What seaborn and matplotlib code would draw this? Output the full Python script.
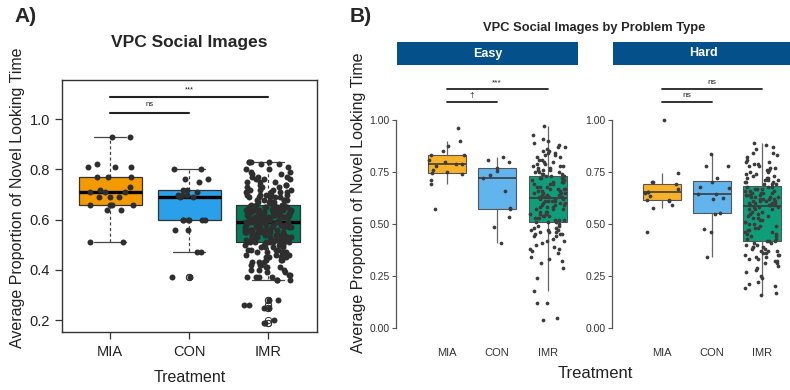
import numpy as np
import pandas as pd
import matplotlib
matplotlib.use("Agg")
import matplotlib.pyplot as plt
import seaborn as sns

# ---- data ----
treatments = ["MIA", "CON", "IMR"]

# Panel A - all trials pooled
mia_all = [0.51, 0.51, 0.64, 0.64, 0.66, 0.66, 0.66, 0.66, 0.69, 0.69, 0.69,
           0.71, 0.71, 0.71, 0.72, 0.73, 0.77, 0.77, 0.77, 0.81, 0.81, 0.81,
           0.82, 0.93, 0.93]
con_all = [0.37, 0.37, 0.47, 0.47, 0.56, 0.56, 0.60, 0.60, 0.60, 0.60, 0.60,
           0.60, 0.69, 0.69, 0.70, 0.70, 0.70, 0.71, 0.72, 0.72, 0.75, 0.76,
           0.76, 0.80, 0.80]
imr_all_levels = [0.19, 0.20, 0.25, 0.26, 0.28,
                  0.36, 0.37, 0.38, 0.39, 0.40, 0.41, 0.42, 0.43, 0.44, 0.45,
                  0.46, 0.47, 0.48, 0.49, 0.50, 0.51, 0.52, 0.53, 0.54, 0.55,
                  0.56, 0.57, 0.58, 0.59, 0.60, 0.61, 0.62, 0.63, 0.64, 0.65,
                  0.66, 0.67, 0.68, 0.69, 0.70, 0.71, 0.72, 0.73, 0.74, 0.75,
                  0.76, 0.77, 0.78, 0.79, 0.80, 0.81, 0.82, 0.83]
imr_all_counts = [2, 1, 2, 2, 2,
                  3, 4, 2, 2, 3, 3, 3, 3, 3, 4,
                  4, 4, 4, 4, 5, 8, 8, 7, 7, 8,
                  7, 7, 8, 9, 9, 8, 9, 8, 9, 8,
                  5, 4, 5, 5, 5, 4, 4, 4, 3, 3,
                  3, 3, 2, 2, 2, 1, 2, 4]

# Panel B - easy problems
mia_easy = [0.57, 0.69, 0.71, 0.74, 0.745, 0.75, 0.76, 0.78, 0.79, 0.79,
            0.80, 0.81, 0.83, 0.83, 0.85, 0.875, 0.90, 0.96]
con_easy = [0.41, 0.485, 0.535, 0.57, 0.575, 0.66, 0.72, 0.735, 0.755, 0.77,
            0.80, 0.81, 0.82]
imr_easy_levels = [0.04, 0.05, 0.12, 0.18, 0.24, 0.29, 0.31, 0.32, 0.33, 0.34,
                   0.36, 0.37, 0.38, 0.39, 0.40, 0.41, 0.42, 0.43, 0.44, 0.45,
                   0.46, 0.47, 0.48, 0.49, 0.50, 0.51, 0.52, 0.53, 0.54, 0.55,
                   0.56, 0.57, 0.58, 0.59, 0.60, 0.61, 0.62, 0.63, 0.64, 0.65,
                   0.66, 0.67, 0.68, 0.69, 0.70, 0.71, 0.72, 0.73, 0.74, 0.75,
                   0.76, 0.77, 0.78, 0.79, 0.80, 0.81, 0.82, 0.83, 0.84, 0.85,
                   0.86, 0.87, 0.88, 0.89, 0.90, 0.91, 0.93, 0.97]
imr_easy_counts = [1, 1, 2, 1, 1, 1, 1, 1, 1, 1,
                   1, 1, 2, 1, 1, 1, 2, 1, 2, 3,
                   3, 3, 2, 2, 1, 3, 3, 3, 3, 3,
                   3, 3, 3, 3, 3, 4, 3, 4, 3, 4,
                   3, 4, 3, 3, 4, 3, 3, 3, 3, 3,
                   3, 2, 3, 2, 2, 2, 2, 2, 2, 2,
                   1, 2, 1, 1, 1, 1, 1, 1]

# Panel B - hard problems
mia_hard = [0.46, 0.575, 0.59, 0.61, 0.615, 0.615, 0.635, 0.65, 0.655, 0.655,
            0.67, 0.69, 0.70, 0.70, 0.745, 1.00]
con_hard = [0.34, 0.46, 0.475, 0.55, 0.555, 0.62, 0.625, 0.645, 0.645, 0.675,
            0.68, 0.70, 0.72, 0.78, 0.78, 0.835]
imr_hard_levels = [0.16, 0.17, 0.19, 0.20, 0.21, 0.22, 0.24, 0.25, 0.27, 0.28,
                   0.29, 0.30, 0.31, 0.32, 0.33, 0.34, 0.35, 0.36, 0.37, 0.38,
                   0.39, 0.40, 0.41, 0.42, 0.43, 0.44, 0.45, 0.46, 0.47, 0.48,
                   0.49, 0.50, 0.51, 0.52, 0.53, 0.54, 0.55, 0.56, 0.57, 0.58,
                   0.59, 0.60, 0.61, 0.62, 0.63, 0.64, 0.65, 0.66, 0.67, 0.68,
                   0.69, 0.70, 0.71, 0.72, 0.73, 0.74, 0.75, 0.76, 0.77, 0.78,
                   0.79, 0.80, 0.81, 0.82, 0.83, 0.84, 0.86, 0.87, 0.88, 0.89]
imr_hard_counts = [1, 1, 1, 1, 1, 1, 1, 1, 1, 1,
                   1, 1, 2, 2, 2, 2, 3, 2, 3, 2,
                   3, 2, 2, 3, 2, 2, 2, 2, 2, 2,
                   2, 2, 2, 2, 2, 2, 2, 2, 3, 3,
                   4, 4, 4, 4, 4, 4, 4, 3, 3, 3,
                   3, 3, 3, 3, 2, 2, 2, 2, 2, 2,
                   2, 2, 1, 1, 1, 2, 1, 1, 1, 1]

# significance brackets: (group1, group2, label)
sig_all = [("MIA", "CON", "ns"), ("MIA", "IMR", "***")]
sig_easy = [("MIA", "CON", "\u2020"), ("MIA", "IMR", "***")]
sig_hard = [("MIA", "CON", "ns"), ("MIA", "IMR", "ns")]

pal_a = {"MIA": "#F39A00", "CON": "#2A9FEA", "IMR": "#067A59"}
pal_b = {"MIA": "#F8B22A", "CON": "#62B4EC", "IMR": "#0E9F7A"}
strip_blue = "#03508A"


def long_df(mia, con, imr):
    return pd.DataFrame({
        "Treatment": ["MIA"] * len(mia) + ["CON"] * len(con) + ["IMR"] * len(imr),
        "prop": list(mia) + list(con) + list(imr),
    })


df_all = long_df(mia_all, con_all, np.repeat(imr_all_levels, imr_all_counts))
df_easy = long_df(mia_easy, con_easy, np.repeat(imr_easy_levels, imr_easy_counts))
df_hard = long_df(mia_hard, con_hard, np.repeat(imr_hard_levels, imr_hard_counts))

sns.set_style("ticks")
plt.rcParams["font.family"] = ["Liberation Sans", "DejaVu Sans"]
np.random.seed(7)

W, H = 790, 390
fig = plt.figure(figsize=(W / 100, H / 100), dpi=100)
ax_a = fig.add_axes([62 / W, 1 - 332 / H, 255 / W, 252 / H])
ax_e = fig.add_axes([396 / W, 1 - 340 / H, 182 / W, 274 / H])
ax_h = fig.add_axes([612 / W, 1 - 340 / H, 180 / W, 274 / H])


def brackets(ax, sigs, ys, fs, lw):
    for (g1, g2, lab), (yl, yt) in zip(sigs, ys):
        x1, x2 = treatments.index(g1), treatments.index(g2)
        ax.plot([x1, x2], [yl, yl], color="#222222", lw=lw, clip_on=False)
        ax.text((x1 + x2) / 2, yt, lab, ha="center", va="center",
                fontsize=fs, color="#222222", clip_on=False)


# ---- Panel A ----
sns.boxplot(data=df_all, x="Treatment", y="prop", hue="Treatment", order=treatments,
            palette=pal_a, saturation=1, legend=False, width=0.8, ax=ax_a,
            linewidth=0.9, linecolor="#333333",
            whiskerprops={"linestyle": (0, (2.5, 2)), "color": "#444444"},
            capprops={"color": "#444444"},
            medianprops={"color": "black", "linewidth": 2.4},
            flierprops={"marker": "o", "markerfacecolor": "none",
                        "markeredgecolor": "#333333", "markersize": 4.5,
                        "markeredgewidth": 0.7})
sns.stripplot(data=df_all, x="Treatment", y="prop", order=treatments, color="#2E2E2E",
              size=4.3, jitter=0.3, ax=ax_a, zorder=5)
ax_a.set_xlim(-0.61, 2.62)
ax_a.set_ylim(0.153, 1.156)
ax_a.set_yticks([0.2, 0.4, 0.6, 0.8, 1.0])
ax_a.set_yticklabels(["0.2", "0.4", "0.6", "0.8", "1.0"])
ax_a.tick_params(axis="both", labelsize=10.5, length=5, width=0.9, color="#333333",
                 labelcolor="#222222", direction="out")
ax_a.tick_params(axis="x", pad=4)
ax_a.set_xlabel("")
ax_a.set_ylabel("")
for sp in ax_a.spines.values():
    sp.set_visible(True)
    sp.set_color("#333333")
    sp.set_linewidth(1.0)
brackets(ax_a, sig_all, [(1.025, 1.058), (1.088, 1.116)], 5.5, 1.5)

fig.text(14 / W, 1 - 17 / H, "A)", fontsize=15, fontweight="bold", va="center", ha="left")
fig.text(189.5 / W, 1 - 42 / H, "VPC Social Images", fontsize=12.5, fontweight="bold",
         ha="center", va="center")
fig.text(18 / W, 1 - 198 / H, "Average Proportion of Novel Looking Time", rotation=90,
         fontsize=11.5, ha="center", va="center", color="#222222")
fig.text(189.5 / W, 1 - 377 / H, "Treatment", fontsize=11.5, ha="center", va="center",
         color="#222222")

# ---- Panel B ----
for ax, df, sigs, name in [(ax_e, df_easy, sig_easy, "Easy"), (ax_h, df_hard, sig_hard, "Hard")]:
    sns.boxplot(data=df, x="Treatment", y="prop", hue="Treatment", order=treatments,
                palette=pal_b, saturation=1, legend=False, width=0.75, ax=ax,
                linewidth=0.8, linecolor="#555555", showcaps=False, showfliers=False,
                whiskerprops={"color": "#666666", "linewidth": 0.9},
                medianprops={"color": "#333333", "linewidth": 1.1})
    sns.stripplot(data=df, x="Treatment", y="prop", order=treatments, color="#3C3C3C",
                  size=2.7, jitter=0.35, ax=ax, zorder=5)
    ax.set_xlim(-1.0, 2.6)
    ax.set_ylim(-0.058, 1.26)
    ax.set_yticks([0, 0.25, 0.5, 0.75, 1.0])
    ax.set_yticklabels(["0.00", "0.25", "0.50", "0.75", "1.00"])
    ax.tick_params(axis="y", labelsize=7.5, length=3, width=0.8, color="#555555",
                   labelcolor="#333333", pad=1.5)
    ax.tick_params(axis="x", labelsize=8, length=0, pad=6, labelcolor="#333333")
    for sp in ["top", "right", "bottom"]:
        ax.spines[sp].set_visible(False)
    ax.spines["left"].set_bounds(0, 1)
    ax.spines["left"].set_color("#555555")
    ax.spines["left"].set_linewidth(0.9)
    ax.set_xlabel("")
    ax.set_ylabel("")
    brackets(ax, sigs, [(1.087, 1.118), (1.149, 1.18)], 6, 1.3)

    pos = ax.get_position()
    sax = fig.add_axes([pos.x0 + 1 / W, 1 - 65 / H, 181 / W, 23 / H])
    sax.set_facecolor(strip_blue)
    sax.set_xticks([])
    sax.set_yticks([])
    for sp in sax.spines.values():
        sp.set_visible(False)
    sax.text(0.5, 0.5, name, color="white", fontsize=9, fontweight="bold",
             ha="center", va="center", transform=sax.transAxes)

fig.text(350 / W, 1 - 17 / H, "B)", fontsize=15, fontweight="bold", va="center", ha="left")
fig.text(594 / W, 1 - 28 / H, "VPC Social Images by Problem Type", fontsize=9.3,
         fontweight="bold", ha="center", va="center")
fig.text(358 / W, 1 - 203 / H, "Average Proportion of Novel Looking Time", rotation=90,
         fontsize=11.5, ha="center", va="center", color="#222222")
fig.text(595 / W, 1 - 373 / H, "Treatment", fontsize=12, ha="center", va="center",
         color="#222222")

fig.savefig("out.png", dpi=100)
